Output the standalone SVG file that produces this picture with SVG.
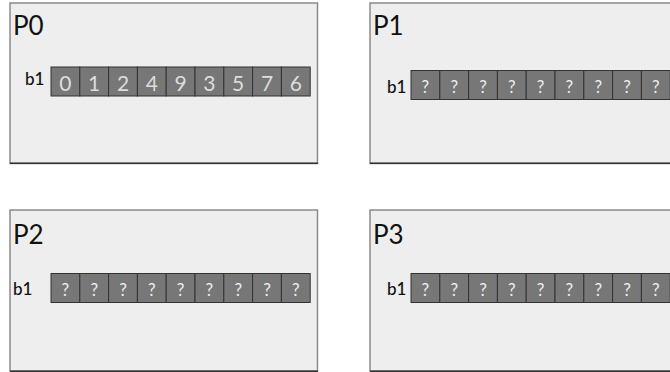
<svg xmlns="http://www.w3.org/2000/svg" width="670" height="372" viewBox="0 0 670 372">
<style>
.panel{fill:#eeeeee;stroke:#8a8a8a;stroke-width:1.5}
.pb{stroke:#333;stroke-width:1.5}
.title{font-family:Lato,"Open Sans",sans-serif;font-size:26px;fill:#111}
.lbl{font-family:Lato,"Open Sans",sans-serif;font-size:17px;font-weight:500;fill:#111}
.cell{fill:#777777;stroke:#333333;stroke-width:1}
.v{font-family:Lato,"Open Sans",sans-serif;font-size:21px;fill:#dddddd;text-anchor:middle}
.q{font-family:Lato,"Open Sans",sans-serif;font-size:17px;fill:#eeeeee;text-anchor:middle}
</style>
<defs>
<g id="row">
<rect class="cell" x="0" y="0" width="28.8" height="29"/>
<rect class="cell" x="28.8" y="0" width="28.8" height="29"/>
<rect class="cell" x="57.6" y="0" width="28.8" height="29"/>
<rect class="cell" x="86.4" y="0" width="28.8" height="29"/>
<rect class="cell" x="115.2" y="0" width="28.8" height="29"/>
<rect class="cell" x="144" y="0" width="28.8" height="29"/>
<rect class="cell" x="172.8" y="0" width="28.8" height="29"/>
<rect class="cell" x="201.6" y="0" width="28.8" height="29"/>
<rect class="cell" x="230.4" y="0" width="28.8" height="29"/>
</g>
<g id="qs">
<text class="q" x="14.4" y="22">?</text>
<text class="q" x="43.2" y="22">?</text>
<text class="q" x="72" y="22">?</text>
<text class="q" x="100.8" y="22">?</text>
<text class="q" x="129.6" y="22">?</text>
<text class="q" x="158.4" y="22">?</text>
<text class="q" x="187.2" y="22">?</text>
<text class="q" x="216" y="22">?</text>
<text class="q" x="244.8" y="22">?</text>
</g>
</defs>
<g id="P0">
<rect class="panel" x="10" y="3" width="307.5" height="160.5"/>
<line class="pb" x1="10" y1="163.3" x2="318" y2="163.3"/>
<text class="title" x="13" y="35">P0</text>
<text class="lbl" x="25" y="85">b1</text>
<g transform="translate(51,67)">
<use href="#row"/>
<text class="v" x="14.4" y="24">0</text>
<text class="v" x="43.2" y="24">1</text>
<text class="v" x="72" y="24">2</text>
<text class="v" x="100.8" y="24">4</text>
<text class="v" x="129.6" y="24">9</text>
<text class="v" x="158.4" y="24">3</text>
<text class="v" x="187.2" y="24">5</text>
<text class="v" x="216" y="24">7</text>
<text class="v" x="244.8" y="24">6</text>
</g>
</g>
<g id="P1">
<rect class="panel" x="370" y="3" width="320" height="160.5"/>
<line class="pb" x1="370" y1="163.3" x2="670" y2="163.3"/>
<text class="title" x="373" y="35">P1</text>
<text class="lbl" x="387" y="93">b1</text>
<g transform="translate(411,70.5)">
<use href="#row"/>
<use href="#qs"/>
</g>
</g>
<g id="P2">
<rect class="panel" x="10" y="210" width="307.5" height="161"/>
<line class="pb" x1="10" y1="371.3" x2="318" y2="371.3"/>
<text class="title" x="13" y="243.5">P2</text>
<text class="lbl" x="13" y="294.5">b1</text>
<g transform="translate(51,273.5)">
<use href="#row"/>
<use href="#qs"/>
</g>
</g>
<g id="P3">
<rect class="panel" x="370" y="210" width="320" height="161"/>
<line class="pb" x1="370" y1="371.3" x2="670" y2="371.3"/>
<text class="title" x="373" y="243.5">P3</text>
<text class="lbl" x="387" y="294.5">b1</text>
<g transform="translate(411,273.5)">
<use href="#row"/>
<use href="#qs"/>
</g>
</g>
<g id="connectors"/>
</svg>
